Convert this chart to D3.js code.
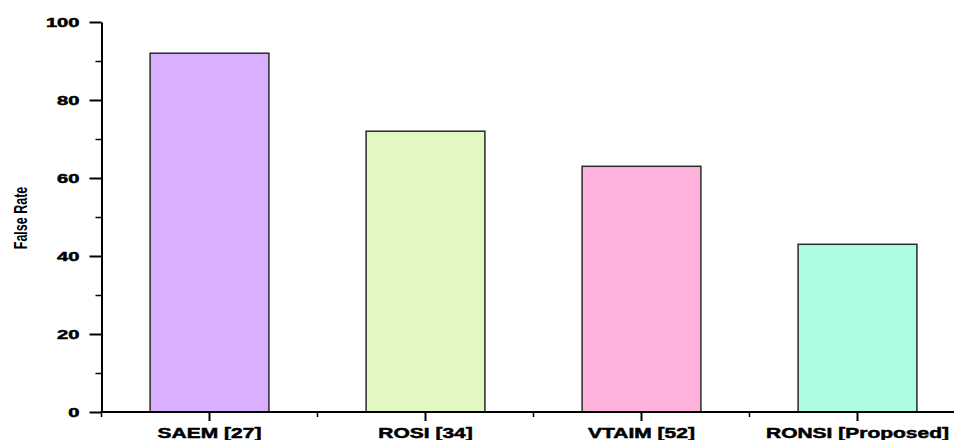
<!DOCTYPE html>
<html>
<head>
<meta charset="utf-8">
<script src="https://cdn.jsdelivr.net/npm/d3@7"></script>
<style>
  html, body { margin: 0; padding: 0; background: #fff; }
  svg { display: block; }
  text { font-family: "Liberation Sans", Arial, sans-serif; font-weight: bold; fill: #000; }
</style>
</head>
<body>
<svg id="chart" width="954" height="440"></svg>
<script>
const categories = ["SAEM [27]", "ROSI [34]", "VTAIM [52]", "RONSI [Proposed]"];
const falseRate = [92, 72, 63, 43];
const barColors = ["#d9b0ff", "#e1f8c1", "#ffb2dc", "#adfde2"];
const majorTicks = [0, 20, 40, 60, 80, 100];
const minorTicks = [10, 30, 50, 70, 90];
const yTitle = "False Rate";

const svg = d3.select("#chart");
const x0 = 101.5, yTop = 22, yBot = 412;

const x = d3.scaleBand().domain(categories).range([x0, x0 + 864]).paddingInner(0.45).paddingOuter(0.225);
const xBand = d3.scaleBand().domain(categories).range([x0, x0 + 864]);
const y = d3.scaleLinear().domain([0, 100]).range([yBot, yTop]);

// bars
svg.append("g").selectAll("rect").data(categories).join("rect")
  .attr("x", d => x(d))
  .attr("width", x.bandwidth())
  .attr("y", (d, i) => y(falseRate[i]))
  .attr("height", (d, i) => y(0) - y(falseRate[i]))
  .attr("fill", (d, i) => barColors[i])
  .attr("stroke", "#2a2a2a")
  .attr("stroke-width", 1.5);

// y axis
const yAxis = svg.append("g").attr("transform", `translate(${x0},0)`)
  .call(d3.axisLeft(y).tickValues(majorTicks).tickSize(12).tickPadding(0).tickSizeOuter(0));
yAxis.select(".domain").attr("stroke", "#000").attr("stroke-width", 2);
yAxis.selectAll(".tick line").attr("stroke", "#000").attr("stroke-width", 2);
yAxis.selectAll(".tick text").attr("font-size", 13).attr("x", null).attr("dy", null)
  .attr("text-anchor", "end").attr("dominant-baseline", "central")
  .attr("stroke", "#000").attr("stroke-width", 0.5)
  .attr("transform", "translate(-22,0) scale(1.55,1)");

const yMinor = svg.append("g").attr("transform", `translate(${x0},0)`)
  .call(d3.axisLeft(y).tickValues(minorTicks).tickSize(6).tickFormat(""));
yMinor.select(".domain").remove();
yMinor.selectAll(".tick line").attr("stroke", "#000").attr("stroke-width", 1.5);

// x axis
const xAxisG = svg.append("g").attr("transform", `translate(0,${yBot})`);
xAxisG.append("line").attr("x1", x0 - 1).attr("x2", 954).attr("y1", 0).attr("y2", 0)
  .attr("stroke", "#000").attr("stroke-width", 2);
const xAx = xAxisG.append("g").call(d3.axisBottom(xBand).tickSize(9).tickSizeOuter(0).tickPadding(0));
xAx.select(".domain").remove();
xAx.selectAll(".tick line").attr("stroke", "#000").attr("stroke-width", 2);
xAx.selectAll(".tick text").attr("font-size", 15).attr("y", null).attr("dy", null)
  .attr("text-anchor", "middle")
  .attr("stroke", "#000").attr("stroke-width", 0.5)
  .attr("transform", "translate(0,26) scale(1.4,1)");
// minor x ticks at band boundaries
xAxisG.append("g").selectAll("line").data(categories).join("line")
  .attr("x1", d => xBand(d)).attr("x2", d => xBand(d))
  .attr("y1", 0).attr("y2", 5)
  .attr("stroke", "#000").attr("stroke-width", 1.5);

// y title
svg.append("text")
  .attr("transform", "translate(27,218) rotate(-90) scale(1,1.4)")
  .attr("text-anchor", "middle")
  .attr("font-size", 12.5)
  .text(yTitle);
</script>
</body>
</html>
